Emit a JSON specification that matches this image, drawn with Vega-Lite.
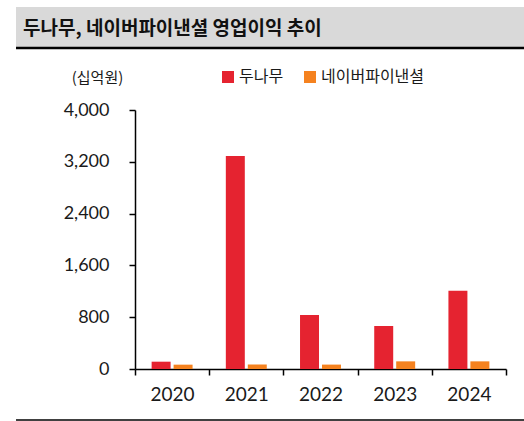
{
  "$schema": "https://vega.github.io/schema/vega-lite/v6.json",
  "padding": {"left": 14, "top": 7, "right": 0, "bottom": 0},
  "spacing": 10,
  "columns": 1,
  "align": "none",
  "resolve": {"scale": {"color": "independent"}, "legend": {"color": "independent"}},
  "config": {"view": {"stroke": null}, "font": "Noto Sans CJK KR"},
  "concat": [
    {
      "width": 391,
      "height": 41,
      "data": {"values": [{"t": "두나무, 네이버파이낸셜 영업이익 추이", "x0": -0.3043, "x1": 1}]},
      "layer": [
        {
          "mark": {"type": "rect", "color": "#d9d9d9"},
          "encoding": {
            "x": {"field": "x0", "type": "quantitative", "scale": {"domain": [0, 1], "nice": false, "zero": false}, "axis": null},
            "x2": {"field": "x1"},
            "y": {"datum": 0, "scale": {"domain": [0, 1], "nice": false, "zero": false}, "axis": null},
            "y2": {"datum": 1}
          }
        },
        {
          "mark": {"type": "text", "align": "left", "baseline": "middle", "dx": 7, "dy": 1, "fontSize": 19, "fontWeight": "bold", "font": "Noto Sans CJK KR", "color": "#111111"},
          "encoding": {
            "text": {"field": "t"},
            "x": {"field": "x0", "type": "quantitative"},
            "y": {"datum": 0.5}
          }
        },
        {
          "mark": {"type": "rule", "color": "#000000", "strokeWidth": 2.5},
          "encoding": {
            "x": {"field": "x0", "type": "quantitative"},
            "x2": {"field": "x1"},
            "y": {"datum": 0}
          }
        }
      ]
    },
    {
      "width": 371,
      "height": 259,
      "data": {
        "values": [
          {"year": "2020", "series": "두나무", "value": 113},
          {"year": "2020", "series": "네이버파이낸셜", "value": 67},
          {"year": "2021", "series": "두나무", "value": 3288},
          {"year": "2021", "series": "네이버파이낸셜", "value": 70},
          {"year": "2022", "series": "두나무", "value": 835},
          {"year": "2022", "series": "네이버파이낸셜", "value": 68},
          {"year": "2023", "series": "두나무", "value": 665},
          {"year": "2023", "series": "네이버파이낸셜", "value": 118},
          {"year": "2024", "series": "두나무", "value": 1210},
          {"year": "2024", "series": "네이버파이낸셜", "value": 118}
        ]
      },
      "mark": {"type": "bar"},
      "encoding": {
        "x": {
          "field": "year", "type": "nominal",
          "scale": {"paddingInner": 0, "paddingOuter": 0},
          "axis": {
            "title": null, "labelAngle": 0, "tickBand": "extent",
            "domainColor": "#000000", "domainWidth": 1.5, "tickColor": "#000000", "tickWidth": 1.5, "tickSize": 6,
            "labelFont": "Lato", "labelFontSize": 19, "labelColor": "#1a1a1a", "labelPadding": 10
          }
        },
        "xOffset": {
          "field": "series",
          "scale": {"domain": ["두나무", "네이버파이낸셜"], "paddingInner": 0.136, "paddingOuter": 0.757}
        },
        "y": {
          "field": "value", "type": "quantitative",
          "scale": {"domain": [0, 4000], "nice": false},
          "axis": {
            "values": [0, 800, 1600, 2400, 3200, 4000], "format": ",d", "grid": false,
            "domainColor": "#000000", "domainWidth": 1.5, "tickColor": "#000000", "tickWidth": 1.5, "tickSize": 6,
            "labelFont": "Lato", "labelFontSize": 18, "labelColor": "#1a1a1a", "labelPadding": 20,
            "minExtent": 119, "maxExtent": 119,
            "title": "(십억원)", "titleAngle": 0, "titleX": -38, "titleY": -33,
            "titleAlign": "center", "titleBaseline": "middle",
            "titleFont": "Noto Sans CJK KR", "titleFontSize": 15, "titleFontWeight": "normal", "titleColor": "#1a1a1a"
          }
        },
        "color": {
          "field": "series", "type": "nominal",
          "scale": {"domain": ["두나무", "네이버파이낸셜"], "range": ["#e52330", "#f5821f"]},
          "legend": {
            "title": null, "orient": "none", "direction": "horizontal",
            "legendX": 76, "legendY": -50, "padding": 9,
            "symbolType": "square", "symbolSize": 144, "symbolStrokeWidth": 0, "symbolOpacity": 1,
            "labelFont": "Noto Sans CJK KR", "labelFontSize": 16, "labelColor": "#1a1a1a",
            "labelOffset": 3, "columnPadding": 18
          }
        }
      }
    },
    {
      "width": 391,
      "height": 6,
      "data": {"values": [{"x0": -0.3043, "x1": 1}]},
      "mark": {"type": "rule", "color": "#000000", "strokeWidth": 1.5},
      "encoding": {
        "x": {"field": "x0", "type": "quantitative", "scale": {"domain": [0, 1], "nice": false, "zero": false}, "axis": null},
        "x2": {"field": "x1"},
        "y": {"datum": 0, "scale": {"domain": [0, 1], "nice": false, "zero": false}, "axis": null}
      }
    }
  ]
}
